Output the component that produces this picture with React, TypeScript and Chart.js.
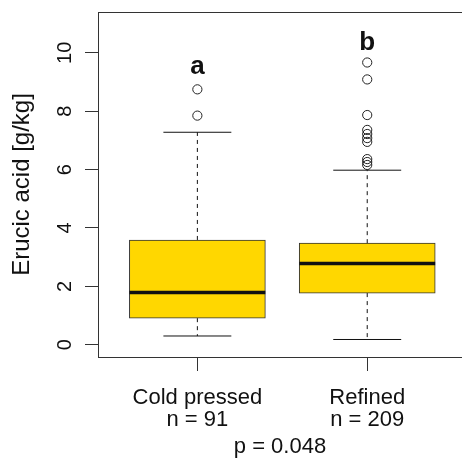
import React, { useEffect, useRef } from "react";
import { Chart, registerables } from "chart.js";

Chart.register(...registerables);

const categories = ["Cold pressed", "Refined"];
const sampleSizes = [91, 209];
const groupX = [1, 2];
const lowerWhisker = [0.3, 0.18];
const q1 = [0.91, 1.77];
const median = [1.79, 2.78];
const q3 = [3.59, 3.48];
const upperWhisker = [7.28, 5.98];
const outliersCold = [8.75, 7.85];
const outliersRefined = [9.67, 9.09, 7.87, 7.36, 7.22, 7.08, 6.95, 6.36, 6.26, 6.16];
const groupLetters = ["a", "b"];
const letterY = [9.28, 10.1];
const yTicks = [0, 2, 4, 6, 8, 10];
const pValueLabel = "p = 0.048";

const FONT = '"Liberation Sans", Arial, Helvetica, sans-serif';
const INK = "#111111";
const AXIS = "#333333";
const BOX_HALF = 0.4;
const CAP_HALF = 0.2;
const X_MIN = 0.415;
const X_MAX = 2.631;

const letterPlugin = {
  id: "groupLetters",
  afterDatasetsDraw(chart: any) {
    const { ctx, scales } = chart;
    const xs = scales.x;
    const ys = scales.y;
    ctx.save();
    ctx.font = `bold 26px ${FONT}`;
    ctx.textAlign = "center";
    ctx.textBaseline = "alphabetic";
    ctx.fillStyle = INK;
    groupLetters.forEach((l, i) => {
      ctx.fillText(l, xs.getPixelForValue(groupX[i]), ys.getPixelForValue(letterY[i]));
    });
    ctx.restore();
  },
};

function seg(x0: number, y0: number, x1: number, y1: number, width: number, dash: number[] = []) {
  return {
    type: "line" as const,
    data: [
      { x: x0, y: y0 },
      { x: x1, y: y1 },
    ],
    borderColor: INK,
    borderWidth: width,
    borderDash: dash,
    pointRadius: 0,
    fill: false,
    order: 0,
  };
}

function zeroPad(s: any) {
  s.paddingTop = 0;
  s.paddingBottom = 0;
  s.paddingLeft = 0;
  s.paddingRight = 0;
}

export default function App() {
  const ref = useRef<HTMLCanvasElement | null>(null);

  useEffect(() => {
    if (!ref.current) return;
    const datasets: any[] = [];
    groupX.forEach((gx, i) => {
      datasets.push(seg(gx - BOX_HALF, median[i], gx + BOX_HALF, median[i], 3.5));
      datasets.push(seg(gx, q3[i], gx, upperWhisker[i], 1, [4, 4]));
      datasets.push(seg(gx, q1[i], gx, lowerWhisker[i], 1, [4, 4]));
      datasets.push(seg(gx - CAP_HALF, upperWhisker[i], gx + CAP_HALF, upperWhisker[i], 1));
      datasets.push(seg(gx - CAP_HALF, lowerWhisker[i], gx + CAP_HALF, lowerWhisker[i], 1));
    });
    [outliersCold, outliersRefined].forEach((arr, i) => {
      datasets.push({
        type: "scatter",
        data: arr.map((v) => ({ x: groupX[i], y: v })),
        pointRadius: 4.6,
        pointBackgroundColor: "rgba(0,0,0,0)",
        pointBorderColor: "#222",
        pointBorderWidth: 1,
        showLine: false,
        order: 0,
      });
    });
    datasets.push({
      type: "bar",
      data: groupX.map((gx, i) => ({ x: gx, y: [q1[i], q3[i]] })),
      backgroundColor: "#FFD700",
      borderColor: AXIS,
      borderWidth: 1,
      borderSkipped: false,
      barThickness: 136,
      order: 5,
    });

    const chart = new Chart(ref.current, {
      type: "bar",
      data: { datasets },
      plugins: [letterPlugin],
      options: {
        animation: false,
        responsive: false,
        maintainAspectRatio: false,
        layout: { padding: { left: 0, right: 0, top: 0, bottom: 0 } },
        plugins: { legend: { display: false }, tooltip: { enabled: false } },
        scales: {
          x: {
            type: "linear",
            position: "bottom",
            offset: false,
            min: X_MIN,
            max: X_MAX,
            afterBuildTicks: (s: any) => {
              s.ticks = groupX.map((v) => ({ value: v }));
            },
            afterFit: (s: any) => {
              s.height = 103;
              zeroPad(s);
            },
            grid: { offset: false, drawOnChartArea: false, drawTicks: true, tickLength: 14, color: AXIS },
            border: { display: true, color: AXIS, width: 1 },
            ticks: {
              padding: 16,
              autoSkip: false,
              maxRotation: 0,
              color: INK,
              font: { family: FONT, size: 22, lineHeight: 1.0 },
              callback: (v: any) => {
                const i = groupX.indexOf(Number(v));
                return i >= 0 ? [categories[i], `n = ${sampleSizes[i]}`] : "";
              },
            },
            title: {
              display: false,
            },
          },
          x2: {
            type: "linear",
            position: "top",
            offset: false,
            min: X_MIN,
            max: X_MAX,
            afterFit: (s: any) => {
              s.height = 12;
              zeroPad(s);
            },
            grid: { display: false, offset: false },
            ticks: { display: false },
            border: { display: true, color: AXIS, width: 1 },
          },
          y: {
            type: "linear",
            min: -0.42,
            max: 11.4,
            afterBuildTicks: (s: any) => {
              s.ticks = yTicks.map((v) => ({ value: v }));
            },
            afterFit: (s: any) => {
              s.width = 98;
              zeroPad(s);
            },
            grid: { drawOnChartArea: false, drawTicks: true, tickLength: 13, color: AXIS },
            border: { display: true, color: AXIS, width: 1 },
            ticks: {
              padding: 8,
              minRotation: 90,
              maxRotation: 90,
              crossAlign: "center",
              color: INK,
              font: { family: FONT, size: 20 },
            },
            title: {
              display: true,
              text: "Erucic acid [g/kg]",
              color: INK,
              font: { family: FONT, size: 24 },
              padding: { top: 8, bottom: 0 },
            },
          },
        },
      } as any,
    });
    return () => chart.destroy();
  }, []);

  return (
    <div style={{ position: "absolute", left: 0, top: 0, width: 462, height: 460, overflow: "hidden", background: "#fff" }}>
      <canvas ref={ref} width={480} height={460} style={{ display: "block" }} />
      <div
        style={{
          position: "absolute",
          left: 98,
          width: 364,
          top: 434,
          textAlign: "center",
          font: `22px ${FONT}`,
          color: INK,
          lineHeight: "24px",
        }}
      >
        {pValueLabel}
      </div>
    </div>
  );
}
